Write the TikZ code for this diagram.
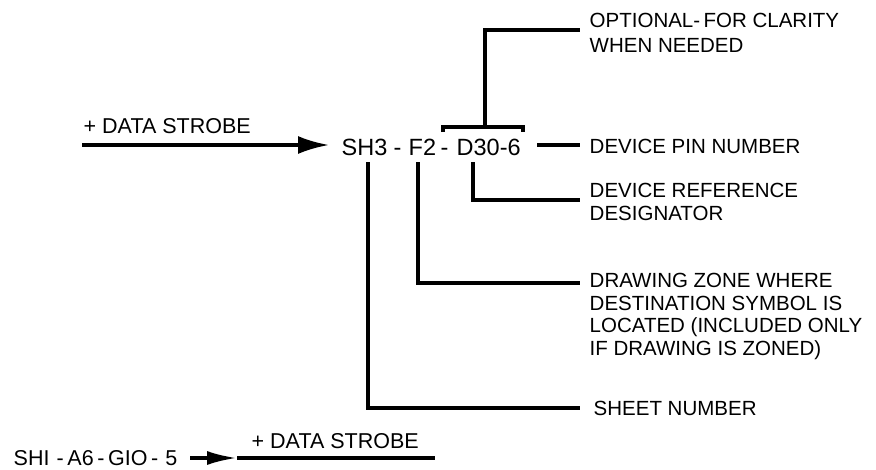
\documentclass[tikz,border=0pt]{standalone}
\usepackage{fontspec}
\setmainfont{Liberation Sans}
\usetikzlibrary{arrows.meta}
\begin{document}
\begin{tikzpicture}[x=1pt,y=-1pt,line width=3.4pt,
  lab/.style={font=\fontsize{20.5}{23}\selectfont,inner sep=0pt,anchor=base west,align=left},
  codetxt/.style={font=\fontsize{23.5}{26}\selectfont,inner sep=0pt,anchor=base west}]
\useasboundingbox (0,0) rectangle (876,469);
% code pieces
\node[codetxt] (sh3) at (340,155) {SH3};
\node[codetxt] (da) at (392,155) {-};
\node[codetxt] (f2) at (407,155) {F2};
\node[codetxt] (db) at (439,155) {-};
\node[codetxt] (d30) at (455,155) {D30-6};
% labels (base anchor = baseline of last line)
\node[lab,font=\fontsize{21.5}{23}\selectfont] (dstop) at (82,133) {+ DATA STROBE};
\node[lab,font=\fontsize{21.5}{23}\selectfont] (dsbot) at (250,448) {+ DATA STROBE};
\node[lab,font=\fontsize{21.5}{23}\selectfont] (shi) at (12,465) {SHI\,\,-\,A6\,-\,GIO\,-\,\,5};
\node[lab,font=\fontsize{20.5}{25}\selectfont] (opt) at (588,52) {OPTIONAL-\,FOR CLARITY\\WHEN NEEDED};
\node[lab] (pin) at (588,153) {DEVICE PIN NUMBER};
\node[lab] (ref) at (588,220) {DEVICE REFERENCE\\DESIGNATOR};
\node[lab,font=\fontsize{20.5}{22.4}\selectfont] (zone) at (588,355) {DRAWING ZONE WHERE\\DESTINATION SYMBOL IS\\LOCATED (INCLUDED ONLY\\IF DRAWING IS ZONED)};
\node[lab] (sheet) at (592,415) {SHEET NUMBER};
% connector points
\coordinate (inL) at (82,145);
\coordinate (inR) at (329,145);
\coordinate (brL) at (443,132);
\coordinate (brR) at (523,132);
\coordinate (brM) at (485,127);
\coordinate (optE) at (580,30);
\coordinate (pinL) at (537,145);
\coordinate (pinR) at (580,145);
\coordinate (d30T) at (473,162);
\coordinate (refE) at (580,200);
\coordinate (f2T) at (418,162);
\coordinate (zoneE) at (580,283);
\coordinate (shT) at (368,162);
\coordinate (sheetE) at (580,408);
\coordinate (outL) at (190,458);
\coordinate (outTip) at (237,458);
\coordinate (outR) at (435,458);
% connectors
\draw[-{Latex[length=31pt,width=18pt]}] (inL) -- (inR);
\draw (brL) -- ++(0,-5) -| (brR);
\draw (brM) |- (optE);
\draw (pinL) -- (pinR);
\draw (d30T) |- (refE);
\draw (f2T) |- (zoneE);
\draw (shT) |- (sheetE);
\draw[-{Latex[length=30pt,width=14pt]}] (outL) -- (outTip);
\draw (outTip) -- (outR);
\end{tikzpicture}
\end{document}
